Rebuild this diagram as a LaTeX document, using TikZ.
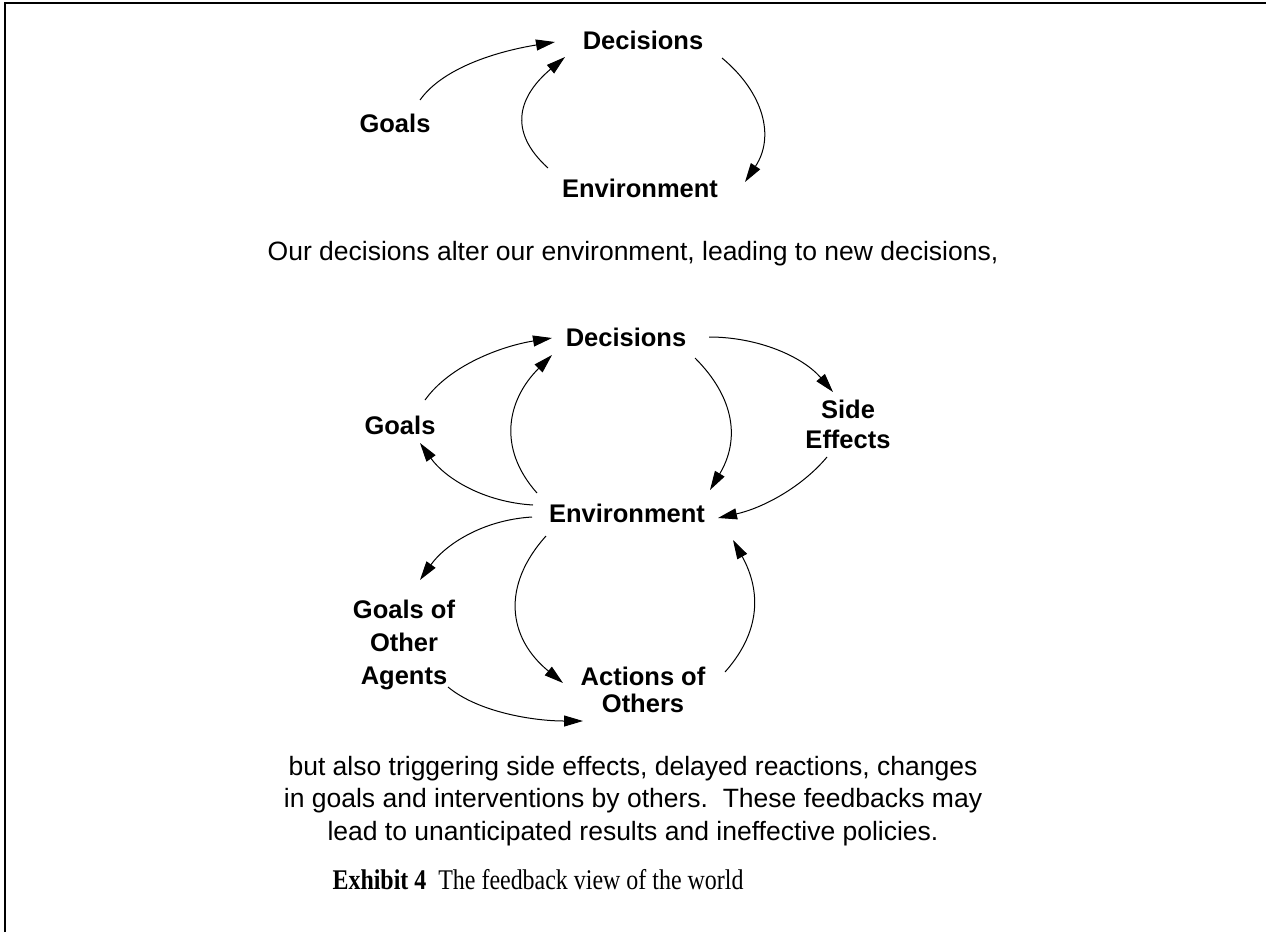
\documentclass[tikz,border=0pt]{standalone}
\usepackage{fontspec}
\setmainfont{Liberation Serif}
\setsansfont{Liberation Sans}
\newfontfamily\captionface{Liberation Serif}[FakeStretch=0.84]
\usetikzlibrary{arrows.meta}
\begin{document}
\begin{tikzpicture}[x=1pt,y=-1pt,
  lbl/.style={font=\sffamily\bfseries\fontsize{25.5}{30}\selectfont, align=center, inner sep=0pt},
  body/.style={font=\sffamily\fontsize{26.5}{32.5}\selectfont, align=center, inner sep=0pt},
  captext/.style={font=\captionface\fontsize{28.5}{32}\selectfont, inner sep=0pt},
  link/.style={line width=1pt, -{Triangle[length=19pt,width=11pt]}},
  edgeframe/.style={line width=2.2pt}]
\useasboundingbox (0,0) rectangle (1266,932);
% partial frame: left and top edges
\draw[edgeframe] (5,932) -- (5,3) -- (1266,3);

% ---- simple loop ----
\node[lbl] (d1) at (643,40) {Decisions};
\node[lbl] (g1) at (395,123) {Goals};
\node[lbl] (e1) at (640,188) {Environment};

\draw[link] ([shift={(25,-23)}]g1.center) .. controls +(25,-35) and +(-50,8) .. ([shift={(-88,2)}]d1.center);
\draw[link] ([shift={(-92,-20)}]e1.center) .. controls +(-42,-38) and +(-45,38) .. ([shift={(-78,17)}]d1.center);
\draw[link] ([shift={(79,18)}]d1.center) .. controls +(42,35) and +(30,-45) .. ([shift={(105,-6)}]e1.center);

\node[body] (s1) at (633,254) {Our decisions alter our environment, leading to new decisions,};

% ---- full feedback view ----
\node[lbl] (d2) at (626,337) {Decisions};
\node[lbl] (g2) at (400,425) {Goals};
\node[lbl] (se) at (848,424) {Side\\Effects};
\node[lbl] (e2) at (627,513) {Environment};
\node[lbl, font=\sffamily\bfseries\fontsize{25.5}{33}\selectfont] (ga) at (404,645) {Goals of\\Other\\Agents};
\node[lbl, font=\sffamily\bfseries\fontsize{25.5}{27}\selectfont] (ao) at (643,690) {Actions of\\Others};

\draw[link] ([shift={(25,-25)}]g2.center) .. controls +(25,-35) and +(-50,8) .. ([shift={(-74,1)}]d2.center);
\draw[link] ([shift={(-90,-20)}]e2.center) .. controls +(-40,-45) and +(-45,45) .. ([shift={(-74,18)}]d2.center);
\draw[link] ([shift={(69,21)}]d2.center) .. controls +(40,40) and +(30,-50) .. ([shift={(83,-23)}]e2.center);
\draw[link] ([shift={(83,0)}]d2.center) .. controls +(50,0) and +(-30,-35) .. ([shift={(-15,-32)}]se.center);
\draw[link] ([shift={(-21,33)}]se.center) .. controls +(-25,30) and +(45,-10) .. ([shift={(91,5)}]e2.center);
\draw[link] ([shift={(-94,-8)}]e2.center) .. controls +(-50,-3) and +(25,35) .. ([shift={(20,18)}]g2.center);
\draw[link] ([shift={(-95,4)}]e2.center) .. controls +(-50,3) and +(25,-35) .. ([shift={(16,-65)}]ga.center);
\draw[link] ([shift={(-81,23)}]e2.center) .. controls +(-45,50) and +(-55,-45) .. ([shift={(-80,-7)}]ao.center);
\draw[link] ([shift={(82,-18)}]ao.center) .. controls +(40,-45) and +(25,45) .. ([shift={(106,27)}]e2.center);
\draw[link] ([shift={(44,42)}]ga.center) .. controls +(30,25) and +(-50,0) .. ([shift={(-60,31)}]ao.center);

\node[body] (t1) at (633,801) {but also triggering side effects, delayed reactions, changes\\in goals and interventions by others.\ \ These feedbacks may\\lead to unanticipated results and ineffective policies.};

\node[captext] (cap1) at (538,880) {\textbf{Exhibit 4}\ \ The feedback view of the world};
\end{tikzpicture}
\end{document}
